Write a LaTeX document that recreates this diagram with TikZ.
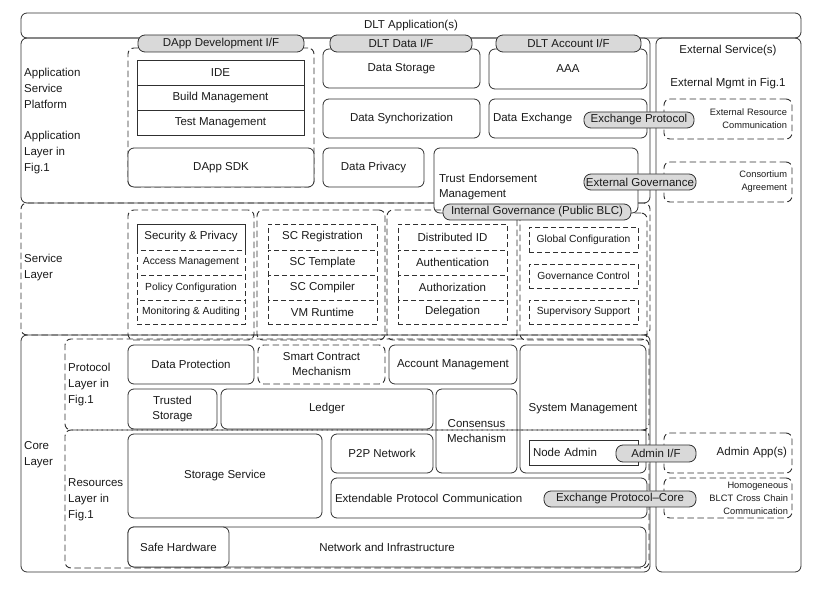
\documentclass[tikz,border=0pt]{standalone}
\usepackage{fontspec}
\setmainfont{Liberation Sans}
\definecolor{lc}{HTML}{303030}
\definecolor{txt}{HTML}{1A1A1A}
\definecolor{tabc}{HTML}{D9D9D9}
\newcommand{\bnode}[8][]{\node[#2, minimum width={#6pt-#4pt}, minimum height={#7pt-#5pt}, #1] (#3) at ({(#4+#6)/2},{(#5+#7)/2}) {#8};}
\begin{document}
\begin{tikzpicture}[x=1pt,y=-1pt,
  every node/.style={font=\fontsize{11.5}{15}\selectfont, text=txt, inner sep=0pt},
  ln/.style={draw=lc, line width=0.8pt},
  rb/.style={ln, rounded corners=6pt, fill=white},
  cb/.style={ln, rounded corners=6pt},
  db/.style={ln, line width=0.9pt, dash pattern=on 6.5pt off 3.5pt, rounded corners=6pt},
  dbw/.style={db, fill=white},
  sq/.style={ln, fill=white},
  dsq/.style={ln, line width=0.9pt, dash pattern=on 5pt off 3pt, fill=white},
  tab/.style={ln, fill=tabc, rounded corners=7pt},
  sm/.style={font=\fontsize{10.3}{13}\selectfont},
  xs/.style={font=\fontsize{9.3}{13}\selectfont},
  lbl/.style={align=left, anchor=west, font=\fontsize{11.5}{16}\selectfont},
]
\useasboundingbox (0,0) rectangle (828,593);
% containers
\bnode{cb}{app}{21}{13}{801}{38}{DLT Application(s)}
\bnode{cb}{asp}{21}{38}{650}{203}{}
\bnode{db}{svc}{21}{203}{650}{335}{}
\bnode{cb}{core}{21}{335}{650}{572}{}
\bnode{cb}{ext}{656}{38}{801}{572}{}
% application layer
\bnode{db}{devg}{128}{48}{314}{187}{}
\bnode{sq}{ide}{137}{60}{304}{85}{IDE}
\bnode{sq}{build}{137}{85}{304}{110}{Build Management}
\bnode{sq}{test}{137}{110}{304}{135}{Test Management}
\bnode{rb}{sdk}{128}{148}{314}{187}{DApp SDK}
\bnode{rb}{dstore}{323}{49}{480}{88}{Data Storage}
\bnode{rb}{dsync}{323}{99}{480}{138}{Data Synchorization}
\bnode{rb}{dpriv}{323}{148}{424}{187}{Data Privacy}
\bnode{rb}{aaa}{489}{49}{647}{89}{AAA}
\bnode[align=left, text width=150pt]{rb}{dex}{489}{99}{647}{138}{Data Exchange}
\bnode[align=left, text width=194pt, text depth=5pt]{rb}{trust}{434}{148}{638}{213}{Trust Endorsement\\Management}
% service layer
\bnode{db}{g1}{128}{210}{254}{340}{}
\bnode{db}{g2}{257}{210}{385}{340}{}
\bnode{db}{g3}{387}{210}{517}{340}{}
\bnode{db}{g4}{520}{213}{647}{340}{}
\bnode{sq}{secp}{137}{224}{245}{250}{Security \& Privacy}
\bnode[sm]{dsq}{accm}{137}{250}{245}{275}{Access Management}
\bnode[sm]{dsq}{polc}{137}{275}{245}{300}{Policy Configuration}
\bnode[sm]{dsq}{mona}{137}{300}{245}{324}{Monitoring \& Auditing}
\bnode{dsq}{screg}{268}{224}{377}{250}{SC Registration}
\bnode{dsq}{sctpl}{268}{250}{377}{275}{SC Template}
\bnode{dsq}{sccmp}{268}{275}{377}{300}{SC Compiler}
\bnode{dsq}{vmrt}{268}{300}{377}{324}{VM Runtime}
\bnode{dsq}{did}{398}{224}{507}{250}{Distributed ID}
\bnode{dsq}{authn}{398}{250}{507}{275}{Authentication}
\bnode{dsq}{authz}{398}{275}{507}{300}{Authorization}
\bnode{dsq}{deleg}{398}{300}{507}{324}{Delegation}
\bnode[sm]{dsq}{gconf}{529}{227}{638}{252}{Global Configuration}
\bnode[sm]{dsq}{govc}{529}{264}{638}{288}{Governance Control}
\bnode[sm]{dsq}{supv}{529}{300}{638}{324}{Supervisory Support}
% core layer
\bnode{rb}{dprot}{128}{345}{254}{384}{Data Protection}
\bnode[align=center]{dbw}{scm}{258}{345}{385}{384}{Smart Contract\\Mechanism}
\bnode{rb}{acct}{389}{345}{517}{384}{Account Management}
\bnode{rb}{sysm}{520}{345}{646}{473}{System Management}
\bnode[align=center]{rb}{tst}{128}{389}{217}{429}{Trusted\\Storage}
\bnode{rb}{ledger}{221}{389}{433}{429}{Ledger}
\bnode[align=center]{rb}{cons}{436}{389}{517}{473}{Consensus\\Mechanism}
\bnode{rb}{stsv}{128}{434}{322}{518}{Storage Service}
\bnode{rb}{p2p}{331}{434}{433}{473}{P2P Network}
\bnode[align=left, text width=308pt]{rb}{epc}{331}{478}{647}{518}{Extendable Protocol Communication}
\bnode{rb}{netinf}{128}{527}{646}{567}{Network and Infrastructure}
\bnode{rb}{safehw}{128}{527}{229}{567}{Safe Hardware}
\bnode[align=left, text width=101pt]{sq}{nadm}{529}{440}{638}{465}{Node Admin}
% layer groups in core
\bnode{db}{prot}{65}{339}{649}{430}{}
\bnode{db}{res}{65}{430}{649}{568}{}
% external column
\node (exts) at (728,51) {External Service(s)};
\node (extm) at (728,84) {External Mgmt in Fig.1};
\bnode[xs, align=right, text width=118pt]{db}{erc}{664}{99}{792}{139}{External Resource\\Communication}
\bnode[xs, align=right, text width=118pt]{db}{consa}{664}{162}{792}{202}{Consortium\\Agreement}
\bnode[align=right, text width=118pt]{db}{admapp}{664}{433}{792}{473}{Admin App(s)}
\bnode[xs, align=right, text width=120pt]{db}{homog}{664}{478}{792}{518}{Homogeneous\\BLCT Cross Chain\\Communication}
% interface tabs
\bnode{tab}{t1}{138}{35}{304}{52}{DApp Development I/F}
\bnode{tab}{t2}{330}{35}{472}{52}{DLT Data I/F}
\bnode{tab}{t3}{496}{35}{641}{52}{DLT Account I/F}
\bnode{tab}{expr}{584}{112}{694}{128}{Exchange Protocol}
\bnode{tab}{extgov}{584}{174}{696}{190}{External Governance}
\bnode{tab}{intgov}{443}{204}{631}{220}{Internal Governance (Public BLC)}
\bnode{tab}{admif}{616}{445}{696}{462}{Admin I/F}
\bnode{tab}{epcore}{544}{491}{696}{507}{Exchange Protocol--Core}
% layer labels
\node[lbl] (lasp) at (24,88) {Application\\Service\\Platform};
\node[lbl] (lapl) at (24,153) {Application\\Layer in\\Fig.1};
\node[lbl] (lsvc) at (24,268) {Service\\Layer};
\node[lbl] (lcore) at (24,455) {Core\\Layer};
\node[lbl] (lprot) at (68,385) {Protocol\\Layer in\\Fig.1};
\node[lbl] (lres) at (68,500) {Resources\\Layer in\\Fig.1};
\end{tikzpicture}
\end{document}
